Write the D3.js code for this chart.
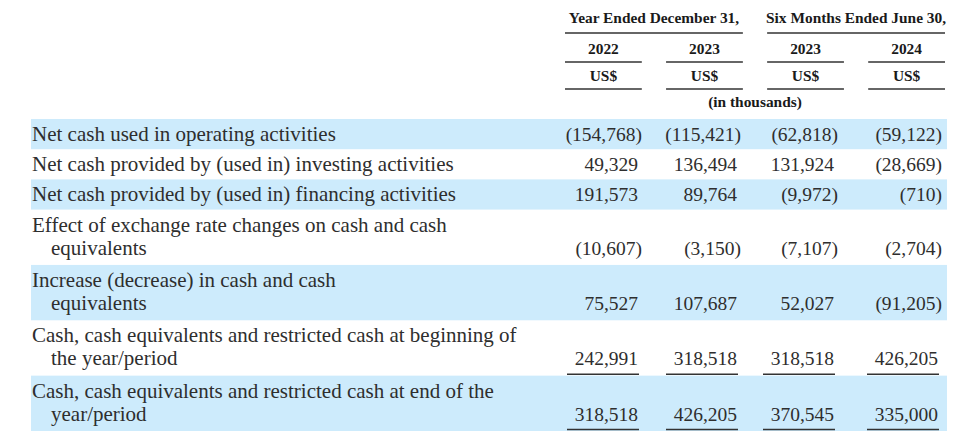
<!DOCTYPE html>
<html><head><meta charset="utf-8">
<script src="https://cdn.jsdelivr.net/npm/d3@7"></script>
<style>html,body{margin:0;padding:0;background:#fff;}svg{display:block;}</style>
</head><body>
<script>
// ---- data ----
const groupHeaders = ["Year Ended December 31,", "Six Months Ended June 30,"];
const groupSpans = [[0, 1], [2, 3]];
const years = ["2022", "2023", "2023", "2024"];
const currencies = ["US$", "US$", "US$", "US$"];
const unitNote = "(in thousands)";
const rowLabels = [
  ["Net cash used in operating activities"],
  ["Net cash provided by (used in) investing activities"],
  ["Net cash provided by (used in) financing activities"],
  ["Effect of exchange rate changes on cash and cash", "equivalents"],
  ["Increase (decrease) in cash and cash", "equivalents"],
  ["Cash, cash equivalents and restricted cash at beginning of", "the year/period"],
  ["Cash, cash equivalents and restricted cash at end of the", "year/period"]
];
const col2022 = [-154768, 49329, 191573, -10607, 75527, 242991, 318518];
const col2023 = [-115421, 136494, 89764, -3150, 107687, 318518, 426205];
const col2023H1 = [-62818, 131924, -9972, -7107, 52027, 318518, 370545];
const col2024H1 = [-59122, -28669, -710, -2704, -91205, 426205, 335000];
const shaded = [true, false, true, false, true, false, true];
const underlined = [false, false, false, false, false, true, true];

const columns = [col2022, col2023, col2023H1, col2024H1];

// ---- layout ----
const W = 960, H = 448;
const svg = d3.select("body").append("svg").attr("width", W).attr("height", H);

const fmt = d3.format(",");
const fmtVal = v => v < 0 ? "(" + fmt(-v) + ")" : fmt(v);

const colIdx = d3.range(columns.length);
const xBand = d3.scaleBand().domain(colIdx).range([565, 945]).paddingInner(0.24);
const xRight = d3.scaleOrdinal().domain(colIdx).range([638, 737, 834, 938]);
const parenW = 4;

// vertical: cumulative line units
const pad = 0.2;
const units = rowLabels.map(l => l.length + pad);
const cum = [0]; units.forEach(u => cum.push(cum[cum.length - 1] + u));
const y = d3.scaleLinear().domain([0, cum[cum.length - 1]]).range([119, 431]);
const lineH = 23;

const textCol = "#2e2e2e";
const serif = "'Liberation Serif','Times New Roman',serif";

// header
const hdr = svg.append("g").attr("font-family", serif).attr("font-weight", "bold")
  .attr("font-size", 15.4).attr("fill", "#1a1a1a");

groupSpans.forEach((s, i) => {
  const x0 = xBand(s[0]), x1 = xBand(s[1]) + xBand.bandwidth();
  hdr.append("text").attr("x", (x0 + x1) / 2).attr("y", 23).attr("text-anchor", "middle").text(groupHeaders[i]);
  hdr.append("line").attr("x1", x0).attr("x2", x1).attr("y1", 33).attr("y2", 33)
    .attr("stroke", "#333").attr("stroke-width", 1.5);
});
colIdx.forEach(c => {
  const cx = xBand(c) + xBand.bandwidth() / 2;
  hdr.append("text").attr("x", cx).attr("y", 54).attr("text-anchor", "middle").text(years[c]);
  hdr.append("line").attr("x1", xBand(c)).attr("x2", xBand(c) + xBand.bandwidth()).attr("y1", 62).attr("y2", 62)
    .attr("stroke", "#333").attr("stroke-width", 1.5);
  hdr.append("text").attr("x", cx).attr("y", 81).attr("text-anchor", "middle").text(currencies[c]);
  hdr.append("line").attr("x1", xBand(c)).attr("x2", xBand(c) + xBand.bandwidth()).attr("y1", 89).attr("y2", 89)
    .attr("stroke", "#333").attr("stroke-width", 1.5);
});
hdr.append("text").attr("x", (xBand(1) + xBand(2) + xBand.bandwidth()) / 2).attr("y", 107)
  .attr("text-anchor", "middle").text(unitNote);

// rows
const rows = svg.append("g").selectAll("g").data(rowLabels).join("g");
rows.filter((d, i) => shaded[i]).append("rect")
  .attr("x", 31).attr("width", 947 - 31)
  .attr("y", (d, i) => y(cum[rowLabels.indexOf(d)]))
  .attr("height", d => { const i = rowLabels.indexOf(d); return y(cum[i + 1]) - y(cum[i]); })
  .attr("fill", "#cdebfc");

rowLabels.forEach((lines, i) => {
  const top = y(cum[i]);
  const g = svg.append("g").attr("font-family", serif).attr("fill", textCol);
  lines.forEach((t, k) => {
    g.append("text").attr("font-size", 21).attr("x", k === 0 ? 32 : 51).attr("y", top + 22 + k * lineH).text(t);
  });
  const by = top + 22 + (lines.length - 1) * lineH;
  colIdx.forEach(c => {
    const v = columns[c][i];
    g.append("text").attr("font-size", 19.5).attr("x", xRight(c) + (v < 0 ? parenW : 0)).attr("y", by)
      .attr("text-anchor", "end").text(fmtVal(v));
    if (underlined[i]) {
      const ly = y(cum[i + 1]) - 1.5;
      g.append("line").attr("x1", xRight(c) - 71).attr("x2", xRight(c) + 1)
        .attr("y1", ly).attr("y2", ly).attr("stroke", "#333").attr("stroke-width", 1.5);
    }
  });
});
</script>
</body></html>
